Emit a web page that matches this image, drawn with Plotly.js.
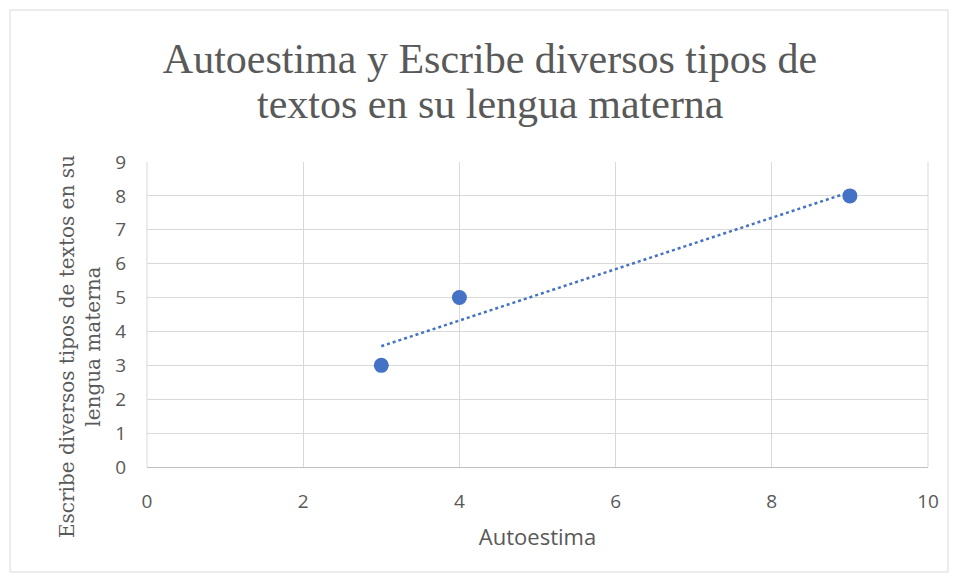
<!DOCTYPE html>
<html><head><meta charset="utf-8">
<script src="https://cdn.plot.ly/plotly-3.0.1.min.js"></script>
<style>html,body{margin:0;padding:0;background:#fff;}#chart{width:958px;height:580px;}</style>
</head><body><div id="chart"></div>
<script>
const xValues = [3, 4, 9];
const yValues = [3, 5, 8];
const titleLine1 = 'Autoestima y Escribe diversos tipos de';
const titleLine2 = 'textos en su lengua materna';
const xTitle = 'Autoestima';
const yTitle = 'Escribe diversos tipos de textos en su<br>lengua materna';

// linear trendline (least squares) from the data
const n = xValues.length;
const mx = xValues.reduce((a,b)=>a+b,0)/n, my = yValues.reduce((a,b)=>a+b,0)/n;
let sxy=0, sxx=0;
for (let i=0;i<n;i++){ sxy+=(xValues[i]-mx)*(yValues[i]-my); sxx+=(xValues[i]-mx)**2; }
const slope = sxy/sxx, intercept = my - slope*mx;
const xmin = Math.min(...xValues), xmax = Math.max(...xValues);
const trendX = [xmin, xmax];
const trendY = trendX.map(x => intercept + slope*x);

const L=147, R=30, T=162, B=113, W=958, H=580;
const pw = W-L-R, ph = H-T-B;
const px = v => (v-L)/pw, py = v => (H-B-v)/ph;
const titleFont = {family:'Liberation Serif, Times New Roman, serif', size:42, color:'#595959'};

const data = [
  {x: trendX, y: trendY, mode:'lines', line:{color:'#4472C4', width:2.5, dash:'dot'}, hoverinfo:'skip'},
  {x: xValues, y: yValues, mode:'markers', marker:{color:'#4472C4', size:15}}
];
const layout = {
  width: W, height: H, showlegend:false,
  margin:{l:L, r:R, t:T, b:B},
  paper_bgcolor:'#fff', plot_bgcolor:'#fff',
  title:{text:titleLine1, font:titleFont, x:px(490), xanchor:'center', xref:'paper', yref:'container', y:1-58/H, yanchor:'middle'},
  annotations:[
    {text:titleLine2, font:titleFont, xref:'paper', yref:'paper', x:px(490), xanchor:'center', y:py(104), yanchor:'middle', showarrow:false},
    {text:yTitle, font:{family:'DejaVu Serif, serif', size:20, color:'#595959'}, textangle:-90,
     xref:'paper', yref:'paper', x:px(80), xanchor:'center', y:py(347), yanchor:'middle', showarrow:false}
  ],
  xaxis:{range:[0,10], dtick:2, tick0:0, showgrid:true, gridcolor:'#d9d9d9', gridwidth:1,
    zeroline:false, showline:true, linecolor:'#bfbfbf', linewidth:1, ticks:'', ticklabelstandoff:17,
    tickfont:{family:'Open Sans, sans-serif', size:19, color:'#595959'},
    title:{text:xTitle, font:{family:'Open Sans, sans-serif', size:22, color:'#595959'}, standoff:16}},
  yaxis:{range:[0,9], dtick:1, tick0:0, showgrid:true, gridcolor:'#d9d9d9', gridwidth:1,
    zeroline:false, showline:false, ticks:'', ticklabelstandoff:20,
    tickfont:{family:'Open Sans, sans-serif', size:19, color:'#595959'}},
  shapes:[
    {type:'rect', xref:'paper', yref:'paper', x0:px(10), x1:px(948), y0:py(572), y1:py(10), line:{color:'#d9d9d9', width:1}, fillcolor:'rgba(0,0,0,0)', layer:'below'},
    {type:'line', xref:'paper', yref:'paper', x0:0, x1:0, y0:0, y1:1, line:{color:'#d9d9d9', width:1}},
    {type:'line', xref:'paper', yref:'paper', x0:1, x1:1, y0:0, y1:1, line:{color:'#d9d9d9', width:1}}
  ]
};
Plotly.newPlot('chart', data, layout, {displayModeBar:false, staticPlot:true});
</script></body></html>
